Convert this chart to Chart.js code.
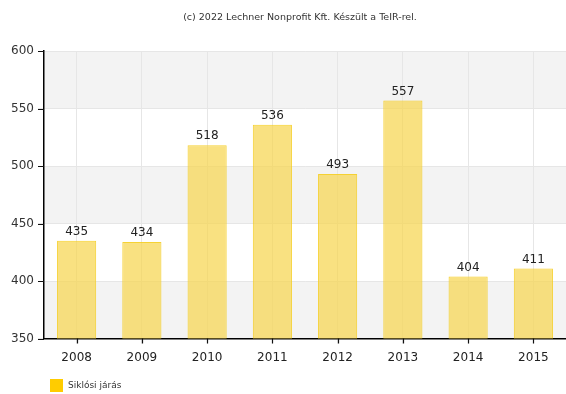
<!DOCTYPE html>
<html>
<head>
<meta charset="utf-8">
<script src="https://cdn.jsdelivr.net/npm/chart.js@4"></script>
<style>
  html, body { margin: 0; padding: 0; background: #fff; }
  #wrap { width: 566px; height: 394px; }
</style>
</head>
<body>
<div id="wrap"><canvas id="c" width="566" height="394"></canvas></div>
<script>
const years = ['2008', '2009', '2010', '2011', '2012', '2013', '2014', '2015'];
const values = [435, 434, 518, 536, 493, 557, 404, 411];
const seriesName = 'Siklósi járás';
const yTicks = [350, 400, 450, 500, 550, 600];
const creditText = '(c) 2022 Lechner Nonprofit Kft. Készült a TeIR-rel.';

const FONT = 'Verdana, "DejaVu Sans", sans-serif';

// Alternating horizontal bands, painted before the scales so grid and axes sit on top
const bandPlugin = {
  id: 'bands',
  beforeDraw(chart) {
    const { ctx, chartArea, scales } = chart;
    const y = scales.y;
    ctx.save();
    for (let i = 0; i < yTicks.length - 1; i++) {
      if (i % 2 === 0) {
        const top = y.getPixelForValue(yTicks[i + 1]);
        const bottom = y.getPixelForValue(yTicks[i]);
        ctx.fillStyle = '#f3f3f3';
        ctx.fillRect(chartArea.left, top, chartArea.right - chartArea.left, bottom - top);
      }
    }
    ctx.restore();
  }
};

// Axis tick marks, value labels, credit line and legend entry
const decorations = {
  id: 'decorations',
  afterDraw(chart) {
    const { ctx, chartArea, scales } = chart;
    const meta = chart.getDatasetMeta(0);
    ctx.save();

    // tick marks outside the axes
    ctx.strokeStyle = '#111';
    ctx.lineWidth = 1.2;
    ctx.beginPath();
    scales.y.ticks.forEach((t, i) => {
      const py = Math.round(scales.y.getPixelForTick(i)) + 0.5;
      ctx.moveTo(chartArea.left - 6, py);
      ctx.lineTo(chartArea.left, py);
    });
    scales.x.ticks.forEach((t, i) => {
      const px = Math.round(scales.x.getPixelForTick(i)) + 0.5;
      ctx.moveTo(px, chartArea.bottom);
      ctx.lineTo(px, chartArea.bottom + 5);
    });
    ctx.stroke();

    // value labels
    ctx.font = '12px ' + FONT;
    ctx.fillStyle = '#222';
    ctx.textAlign = 'center';
    ctx.textBaseline = 'bottom';
    meta.data.forEach((bar, i) => {
      ctx.fillText(String(values[i]), bar.x, bar.y - 3);
    });

    // credit line
    ctx.font = '9.5px ' + FONT;
    ctx.fillStyle = '#333';
    ctx.textBaseline = 'middle';
    ctx.fillText(creditText, (chartArea.left + chartArea.right) / 2 - 5, 18);

    // legend
    ctx.fillStyle = '#ffcc00';
    ctx.fillRect(50, 379, 13, 13);
    ctx.font = '9px ' + FONT;
    ctx.fillStyle = '#333';
    ctx.textAlign = 'left';
    ctx.fillText(seriesName, 68, 386);
    ctx.restore();
  }
};

new Chart(document.getElementById('c'), {
  type: 'bar',
  data: {
    labels: years,
    datasets: [{
      label: seriesName,
      data: values,
      backgroundColor: 'rgba(247, 214, 80, 0.72)',
      borderColor: 'rgba(245, 205, 30, 0.9)',
      borderWidth: 1,
      categoryPercentage: 1,
      barPercentage: 0.6
    }]
  },
  options: {
    responsive: false,
    animation: false,
    devicePixelRatio: 1,
    layout: { padding: { left: 0, right: 0, top: 51, bottom: 22 } },
    plugins: {
      title: { display: false },
      legend: { display: false },
      tooltip: { enabled: false }
    },
    scales: {
      x: {
        grid: {
          offset: false,
          color: '#e6e6e6',
          tickLength: 5
        },
        border: { color: '#000', width: 1.5 },
        ticks: {
          color: '#222',
          font: { family: FONT, size: 12 },
          padding: 7
        }
      },
      y: {
        min: 350,
        max: 600,
        afterBuildTicks(axis) {
          axis.ticks = yTicks.map(v => ({ value: v }));
        },
        afterFit(axis) { axis.width = 44; },
        grid: {
          color: '#e6e6e6',
          tickLength: 6
        },
        border: { color: '#000', width: 1.5 },
        ticks: {
          color: '#333',
          font: { family: FONT, size: 12 },
          padding: 4
        }
      }
    }
  },
  plugins: [bandPlugin, decorations]
});
</script>
</body>
</html>
